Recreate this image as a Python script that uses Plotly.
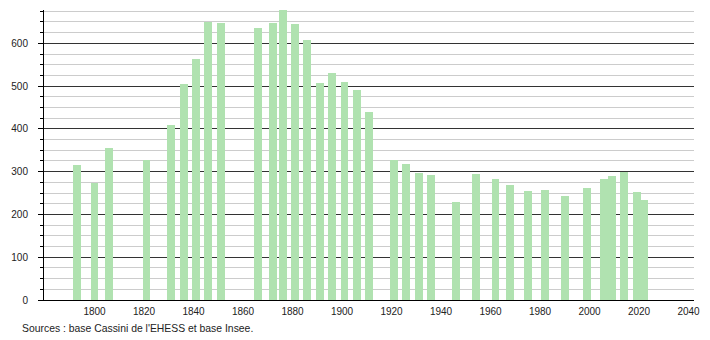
import plotly.graph_objects as go

years = [1793, 1800, 1806, 1821, 1831, 1836, 1841, 1846, 1851, 1866, 1872, 1876,
         1881, 1886, 1891, 1896, 1901, 1906, 1911, 1921, 1926, 1931, 1936, 1946,
         1954, 1962, 1968, 1975, 1982, 1990, 1999, 2006, 2009, 2014, 2019, 2022]
population = [316, 274, 355, 327, 409, 505, 563, 651, 647, 636, 647, 677,
              645, 608, 507, 531, 510, 491, 439, 327, 318, 297, 293, 229,
              294, 283, 269, 255, 257, 243, 262, 283, 290, 299, 252, 234]
x_ticks = [1800, 1820, 1840, 1860, 1880, 1900, 1920, 1940, 1960, 1980, 2000, 2020, 2040]
y_ticks = [0, 100, 200, 300, 400, 500, 600]
source_text = "Sources : base Cassini de l'EHESS et base Insee."

fig = go.Figure()
fig.add_trace(go.Bar(
    x=years, y=population, width=3.2,
    marker=dict(color="#b0e2b0", line=dict(width=0)),
    hoverinfo="x+y",
))

font = dict(family="Liberation Sans, Arial, sans-serif", size=10, color="#222")

fig.update_layout(
    width=710, height=340,
    margin=dict(l=44, r=9.5, t=10, b=40),
    paper_bgcolor="white", plot_bgcolor="white",
    showlegend=False,
    font=font,
    bargap=0,
    xaxis=dict(
        range=[1779.6, 2042.2],
        tickvals=x_ticks, ticktext=[str(v) for v in x_ticks],
        showgrid=False, zeroline=False,
        showline=True, linecolor="#000", linewidth=1,
        ticks="", tickfont=font, ticklabelstandoff=2,
    ),
    yaxis=dict(
        range=[0, 678],
        tickvals=y_ticks,
        showgrid=True, gridcolor="#333", gridwidth=1,
        zeroline=False,
        showline=True, linecolor="#000", linewidth=1,
        ticks="outside", ticklen=5, tickcolor="#000", tickwidth=1,
        ticklabelstandoff=8,
        tickfont=font,
        minor=dict(dtick=25, showgrid=True, gridcolor="#cccccc", gridwidth=1,
                   ticks="outside", ticklen=3, tickcolor="#000"),
    ),
    annotations=[dict(
        text=source_text, xref="paper", yref="paper",
        x=(20 - 44) / 656.5, y=-28 / 290, xanchor="left", yanchor="middle",
        showarrow=False,
        font=dict(family="Liberation Sans, Arial, sans-serif", size=10.4, color="#222"),
    )],
)

fig.write_html("out.html")
